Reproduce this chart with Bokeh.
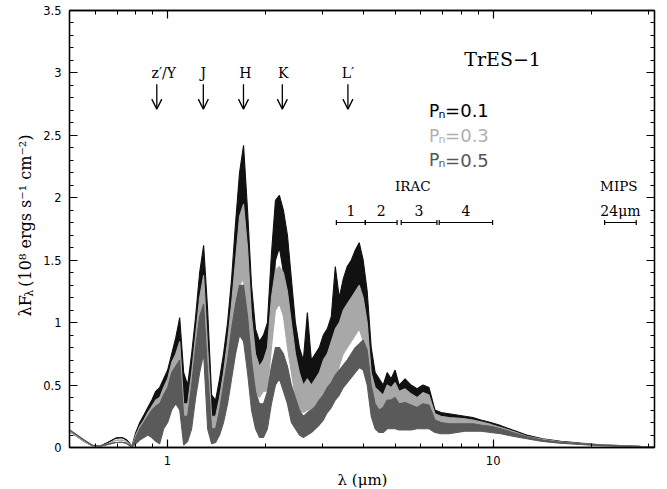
import numpy as np
from bokeh.plotting import figure
from bokeh.layouts import row, column
from bokeh.models import (ColumnDataSource, LogAxis, LinearAxis, FixedTicker, Range1d,
                          Arrow, OpenHead, CustomJSTickFormatter)
from bokeh.embed import file_html
from bokeh.resources import INLINE
from bokeh.core.properties import value

# ---------------- data ----------------
wavelength = [
    0.500, 0.527, 0.554, 0.586, 0.620, 0.656, 0.694, 0.724, 0.745, 0.761,
    0.777, 0.799, 0.822, 0.846, 0.870, 0.895, 0.920, 0.946, 0.973, 1.001,
    1.030, 1.060, 1.090, 1.121, 1.153, 1.186, 1.220, 1.255, 1.291, 1.328,
    1.366, 1.405, 1.445, 1.486, 1.529, 1.573, 1.618, 1.664, 1.712, 1.761,
    1.811, 1.863, 1.916, 1.971, 2.027, 2.085, 2.145, 2.206, 2.270, 2.335,
    2.401, 2.470, 2.541, 2.613, 2.688, 2.765, 2.844, 2.925, 3.009, 3.095,
    3.184, 3.275, 3.369, 3.465, 3.564, 3.666, 3.771, 3.879, 3.990, 4.104,
    4.222, 4.342, 4.467, 4.594, 4.726, 4.861, 5.000, 5.143,
    5.365, 5.597, 5.838, 6.090, 6.354, 6.628, 6.914, 7.316, 7.742, 8.191,
    8.668, 9.171, 9.838, 10.56, 11.49, 12.68, 14.20, 16.12, 18.56, 21.37,
    24.61, 28.34, 31.3,
]

# Pn = 0.1 (black): upper / lower envelope of the dense spectrum
pn01_upper = [
    0.13, 0.09, 0.05, 0.015, 0.01, 0.04, 0.075, 0.08, 0.065, 0.04,
    0.008, 0.12, 0.2, 0.26, 0.32, 0.38, 0.45, 0.48, 0.55, 0.62,
    0.75, 0.88, 1.04, 0.6, 0.5, 0.75, 1.05, 1.4, 1.62, 1.1,
    0.42, 0.38, 0.55, 0.75, 1.0, 1.35, 1.8, 2.2, 2.42, 1.9,
    1.3, 0.95, 0.85, 0.9, 1.0, 1.55, 1.98, 2.02, 1.9, 1.7,
    1.35, 1.0, 0.8, 0.7, 1.08, 0.7, 0.75, 0.8, 0.9, 0.95,
    1.05, 1.45, 1.2, 1.35, 1.45, 1.5, 1.58, 1.64, 1.5, 1.25,
    0.8, 0.6, 0.55, 0.5, 0.6, 0.55, 0.62, 0.5,
    0.55, 0.5, 0.47, 0.5, 0.48, 0.3, 0.28, 0.27, 0.26, 0.25,
    0.24, 0.22, 0.2, 0.175, 0.14, 0.1, 0.07, 0.05, 0.035, 0.022,
    0.015, 0.01, 0.008,
]
pn01_lower = [
    0.13, 0.09, 0.05, 0.015, 0.01, 0.04, 0.075, 0.08, 0.065, 0.04,
    0.005, 0.06, 0.12, 0.16, 0.2, 0.22, 0.25, 0.22, 0.3, 0.38,
    0.45, 0.55, 0.6, 0.15, 0.2, 0.35, 0.6, 0.95, 1.25, 0.5,
    0.2, 0.22, 0.3, 0.45, 0.6, 0.85, 1.2, 1.6, 1.75, 1.2,
    0.75, 0.6, 0.5, 0.55, 0.6, 1.0, 1.5, 1.6, 1.4, 1.0,
    0.8, 0.55, 0.45, 0.4, 0.45, 0.45, 0.45, 0.5, 0.55, 0.6,
    0.7, 0.75, 0.85, 0.95, 1.1, 1.15, 1.2, 1.25, 1.1, 0.75,
    0.35, 0.3, 0.22, 0.22, 0.25, 0.25, 0.25, 0.25,
    0.22, 0.2, 0.22, 0.22, 0.22, 0.15, 0.14, 0.14, 0.15, 0.16,
    0.16, 0.16, 0.15, 0.14, 0.11, 0.08, 0.055, 0.04, 0.028, 0.018,
    0.012, 0.008, 0.006,
]

# Pn = 0.3 (light grey)
pn03_upper = [
    0.13, 0.09, 0.05, 0.015, 0.01, 0.03, 0.058, 0.06, 0.05, 0.03,
    0.005, 0.1, 0.17, 0.22, 0.28, 0.33, 0.38, 0.4, 0.48, 0.55,
    0.68, 0.75, 0.85, 0.35, 0.35, 0.6, 0.9, 1.2, 1.38, 0.8,
    0.25, 0.25, 0.4, 0.6, 0.85, 1.15, 1.5, 1.85, 1.95, 1.6,
    1.05, 0.75, 0.65, 0.7, 0.8, 1.2, 1.42, 1.45, 1.4, 1.25,
    1.0, 0.75, 0.6, 0.5, 0.55, 0.5, 0.55, 0.6, 0.7, 0.75,
    0.85, 0.95, 1.0, 1.1, 1.15, 1.2, 1.25, 1.3, 1.2, 1.0,
    0.6, 0.48, 0.45, 0.42, 0.5, 0.48, 0.52, 0.45,
    0.47, 0.43, 0.4, 0.44, 0.42, 0.27, 0.25, 0.24, 0.235, 0.23,
    0.22, 0.205, 0.185, 0.16, 0.13, 0.09, 0.065, 0.045, 0.032, 0.02,
    0.014, 0.009, 0.007,
]
pn03_lower = [
    0.13, 0.09, 0.05, 0.015, 0.01, 0.03, 0.058, 0.06, 0.05, 0.03,
    0.004, 0.05, 0.1, 0.12, 0.15, 0.15, 0.15, 0.12, 0.22, 0.3,
    0.4, 0.45, 0.4, 0.05, 0.12, 0.25, 0.5, 0.8, 1.0, 0.3,
    0.1, 0.12, 0.2, 0.3, 0.45, 0.7, 1.0, 1.3, 1.35, 0.9,
    0.6, 0.45, 0.4, 0.45, 0.45, 0.8, 1.1, 1.15, 1.05, 0.8,
    0.6, 0.4, 0.3, 0.28, 0.3, 0.3, 0.3, 0.35, 0.4, 0.45,
    0.5, 0.55, 0.65, 0.75, 0.8, 0.85, 0.9, 0.95, 0.85, 0.6,
    0.3, 0.22, 0.18, 0.18, 0.22, 0.22, 0.22, 0.22,
    0.2, 0.18, 0.2, 0.2, 0.2, 0.14, 0.13, 0.13, 0.14, 0.15,
    0.15, 0.15, 0.14, 0.13, 0.1, 0.075, 0.05, 0.037, 0.026, 0.016,
    0.011, 0.007, 0.005,
]

# Pn = 0.5 (dark grey)
pn05_upper = [
    0.14, 0.10, 0.06, 0.02, 0.01, 0.025, 0.04, 0.042, 0.035, 0.02,
    0.005, 0.08, 0.15, 0.2, 0.25, 0.3, 0.33, 0.35, 0.42, 0.48,
    0.6, 0.65, 0.7, 0.25, 0.25, 0.5, 0.8, 1.05, 1.15, 0.6,
    0.15, 0.15, 0.3, 0.5, 0.7, 0.95, 1.15, 1.3, 1.3, 1.05,
    0.7, 0.45, 0.35, 0.35, 0.45, 0.65, 0.8, 0.8, 0.75, 0.65,
    0.5, 0.4, 0.3, 0.25, 0.28, 0.3, 0.33, 0.38, 0.42, 0.48,
    0.52, 0.58, 0.62, 0.66, 0.7, 0.75, 0.8, 0.83, 0.86, 0.78,
    0.5, 0.35, 0.3, 0.32, 0.38, 0.38, 0.4, 0.35,
    0.36, 0.34, 0.32, 0.35, 0.34, 0.22, 0.2, 0.19, 0.19, 0.19,
    0.19, 0.18, 0.17, 0.15, 0.12, 0.085, 0.06, 0.042, 0.03, 0.019,
    0.013, 0.008, 0.006,
]
pn05_lower = [
    0.14, 0.10, 0.06, 0.02, 0.01, 0.025, 0.04, 0.042, 0.035, 0.02,
    0.004, 0.03, 0.06, 0.08, 0.1, 0.08, 0.05, 0.03, 0.15, 0.2,
    0.3, 0.35, 0.3, 0.02, 0.05, 0.15, 0.4, 0.6, 0.75, 0.15,
    0.03, 0.04, 0.1, 0.2, 0.35, 0.55, 0.75, 0.9, 0.85, 0.6,
    0.3, 0.15, 0.08, 0.08, 0.15, 0.35, 0.5, 0.55, 0.45, 0.35,
    0.2, 0.15, 0.1, 0.08, 0.1, 0.12, 0.15, 0.18, 0.22, 0.28,
    0.32, 0.38, 0.42, 0.48, 0.52, 0.56, 0.6, 0.64, 0.62, 0.5,
    0.25, 0.15, 0.12, 0.12, 0.15, 0.15, 0.15, 0.14,
    0.14, 0.14, 0.15, 0.15, 0.15, 0.12, 0.11, 0.11, 0.12, 0.13,
    0.13, 0.13, 0.12, 0.11, 0.09, 0.07, 0.048, 0.035, 0.024, 0.015,
    0.01, 0.006, 0.004,
]

series_names = ["0.1", "0.3", "0.5"]
series_colors = ["#111111", "#a8a8a8", "#5a5a5a"]
label_colors = ["#000000", "#b0b0b0", "#555555"]

band_names = ["z\u2032/Y", "J", "H", "K", "L\u2032"]
band_wavelengths = [0.927, 1.288, 1.711, 2.252, 3.581]
band_label_shift = [7, 0, 2, 1, 0]

irac_channels = ["1", "2", "3", "4"]
irac_lo = [3.30, 4.05, 5.22, 6.83]
irac_hi = [4.05, 5.07, 6.72, 9.96]
mips_channels = ["24\u03bcm"]
mips_lo = [22.0]
mips_hi = [27.5]

ytick_values = [0, 0.5, 1, 1.5, 2, 2.5, 3, 3.5]
ytick_labels = ["0", "0.5", "1", "1.5", "2", "2.5", "3", "3.5"]
yminor_values = [i / 10 for i in range(0, 36)]
xtick_values = [1, 10]
xtick_labels = ["1", "10"]
xminor_values = [0.5, 0.6, 0.7, 0.8, 0.9, 2, 3, 4, 5, 6, 7, 8, 9, 20, 30]

y_title_parts = ["\u03bbF", "\u03bb", "(10\u2078 ergs s\u207b\u00b9 cm\u207b\u00b2)"]
x_title = "\u03bb (\u03bcm)"

W, H = 667, 489
LABEL_W = 40      # strip holding the y title
XT_H = 19         # strip holding the x title
MAIN_H = H - XT_H


def strip(width, height, x0, x1, y_bottom, y_top):
    f = figure(width=width, height=height, x_range=Range1d(x0, x1), y_range=Range1d(y_bottom, y_top),
               x_axis_location=None, y_axis_location=None, output_backend="svg",
               toolbar_location=None, min_border_left=0, min_border_right=0,
               min_border_top=0, min_border_bottom=0)
    f.grid.visible = False
    f.outline_line_color = None
    f.background_fill_color = "white"
    f.border_fill_color = "white"
    return f


# ---------------- y-title strip (canvas-pixel coordinates) ----------------
lf = strip(LABEL_W, MAIN_H, 0, LABEL_W, MAIN_H, 0)
title_src = ColumnDataSource(dict(x=[25, 28.5, 25], y=[329, 308, 297], t=y_title_parts,
                                  s=["16px", "11px", "16px"]))
lf.text(x="x", y="y", text="t", source=title_src, angle=np.pi / 2, text_align="left",
        text_baseline="alphabetic", text_font=value("DejaVu Serif"), text_font_size="s",
        text_color="black")

# ---------------- x-title strip ----------------
xf = strip(W, XT_H, 0, W, H, MAIN_H)
xf.text(x=[362], y=[479], text=[x_title], text_align="center", text_baseline="middle",
        text_font=value("DejaVu Serif"), text_font_size="15px", text_color="black")

# ---------------- main figure ----------------
p = figure(width=W - LABEL_W, height=MAIN_H, x_axis_type="log",
           x_range=Range1d(0.5, 31.3), y_range=Range1d(0, 3.5),
           output_backend="svg", toolbar_location=None,
           min_border_left=68 - LABEL_W, min_border_right=13, min_border_top=10,
           min_border_bottom=MAIN_H - 447)
p.grid.visible = False
p.outline_line_color = "black"
p.outline_line_width = 1.3
p.background_fill_color = "white"
p.border_fill_color = "white"

fmt = CustomJSTickFormatter(code="return String(Math.round(tick*10)/10);")
blank_fmt = CustomJSTickFormatter(code="return '';")

xt = FixedTicker(ticks=xtick_values, minor_ticks=xminor_values)
yt = FixedTicker(ticks=ytick_values, minor_ticks=yminor_values)


def style_axis(ax):
    ax.major_tick_in = 8
    ax.major_tick_out = 0
    ax.minor_tick_in = 4
    ax.minor_tick_out = 0
    ax.major_tick_line_color = "black"
    ax.minor_tick_line_color = "black"
    ax.major_tick_line_width = 1.2
    ax.minor_tick_line_width = 1.0
    ax.axis_line_color = "black"
    ax.axis_line_width = 1.3
    ax.major_label_text_font = "DejaVu Sans"
    ax.major_label_text_font_size = "11.5px"
    ax.major_label_text_color = "black"


xa = p.xaxis[0]
xa.ticker = xt
xa.formatter = fmt
xa.major_label_overrides = dict(zip([float(v) for v in xtick_values], xtick_labels))
style_axis(xa)
xa.major_label_standoff = 8

ya = p.yaxis[0]
ya.ticker = yt
ya.formatter = fmt
ya.major_label_overrides = dict(zip([float(v) for v in ytick_values], ytick_labels))
style_axis(ya)
ya.major_label_standoff = 8

top = LogAxis(ticker=xt, formatter=blank_fmt)
style_axis(top)
top.major_label_standoff = 0
p.add_layout(top, "above")
right = LinearAxis(ticker=yt, formatter=blank_fmt)
style_axis(right)
right.major_label_standoff = 0
p.add_layout(right, "right")

# ---------------- spectra ----------------
src = ColumnDataSource(dict(wl=wavelength,
                            u1=pn01_upper, l1=pn01_lower,
                            u3=pn03_upper, l3=pn03_lower,
                            u5=pn05_upper, l5=pn05_lower))
for (u, l), col in zip([("u1", "l1"), ("u3", "l3"), ("u5", "l5")], series_colors):
    p.varea(x="wl", y1=l, y2=u, source=src, fill_color=col)
    p.line(x="wl", y=u, source=src, line_color=col, line_width=1.1)
    p.line(x="wl", y=l, source=src, line_color=col, line_width=1.1)

# ---------------- annotations ----------------
arrow_src = ColumnDataSource(dict(x0=band_wavelengths, y0=[2.909] * 5,
                                  x1=band_wavelengths, y1=[2.71] * 5))
p.add_layout(Arrow(end=OpenHead(size=10, line_width=1.3, line_color="black"),
                   source=arrow_src, x_start="x0", y_start="y0", x_end="x1", y_end="y1",
                   line_width=1.3, line_color="black"))
band_src = ColumnDataSource(dict(x=band_wavelengths, y=[3.0] * 5, t=band_names, dx=band_label_shift))
p.text(x="x", y="y", text="t", x_offset="dx", source=band_src, text_font=value("DejaVu Serif"),
       text_font_size="14px", text_align="center", text_baseline="alphabetic", text_color="black")

p.text(x=[10.69], y=[3.11], text=["TrES\u22121"], text_font=value("DejaVu Serif"),
       text_font_size="19px", text_align="center", text_baseline="alphabetic", text_color="black")

pn_base = [2.696, 2.496, 2.30]
pn_src = ColumnDataSource(dict(xp=[6.355] * 3, xn=[6.80] * 3, xe=[7.12] * 3,
                               y=pn_base, ys=[b - 0.028 for b in pn_base],
                               t=["=" + s for s in series_names], c=label_colors))
p.text(x="xp", y="y", text=value("P"), source=pn_src, text_color="c", text_font=value("DejaVu Sans"),
       text_font_size="17px", text_align="left", text_baseline="alphabetic")
p.text(x="xn", y="ys", text=value("n"), source=pn_src, text_color="c", text_font=value("DejaVu Sans"),
       text_font_size="11px", text_align="left", text_baseline="alphabetic")
p.text(x="xe", y="y", text="t", source=pn_src, text_color="c", text_font=value("DejaVu Sans"),
       text_font_size="18px", text_align="left", text_baseline="alphabetic")

bar_y = 1.802
inst_lo = irac_lo + mips_lo
inst_hi = irac_hi + mips_hi
inst_names = irac_channels + mips_channels
bar_src = ColumnDataSource(dict(lo=inst_lo, hi=inst_hi, y=[bar_y] * len(inst_lo),
                                mid=[np.sqrt(a * b) for a, b in zip(inst_lo, inst_hi)],
                                ty=[1.896] * len(inst_lo), t=inst_names))
p.segment(x0="lo", y0="y", x1="hi", y1="y", source=bar_src, line_color="black", line_width=1.2)
p.scatter(x="lo", y="y", source=bar_src, marker="dash", angle=np.pi / 2, size=5,
          line_color="black", line_width=1.2)
p.scatter(x="hi", y="y", source=bar_src, marker="dash", angle=np.pi / 2, size=5,
          line_color="black", line_width=1.2)
p.text(x="mid", y="ty", text="t", source=bar_src, text_font=value("DejaVu Serif"),
       text_font_size="14px", text_align="center", text_baseline="alphabetic", text_color="black")
p.text(x=[5.664, 24.32], y=[2.096, 2.096], text=["IRAC", "MIPS"], text_font=value("DejaVu Serif"),
       text_font_size="13.5px", text_align="center", text_baseline="alphabetic", text_color="black")

layout = column(row(lf, p, spacing=0), xf, spacing=0)
open("out.html", "w").write(file_html(layout, INLINE))
